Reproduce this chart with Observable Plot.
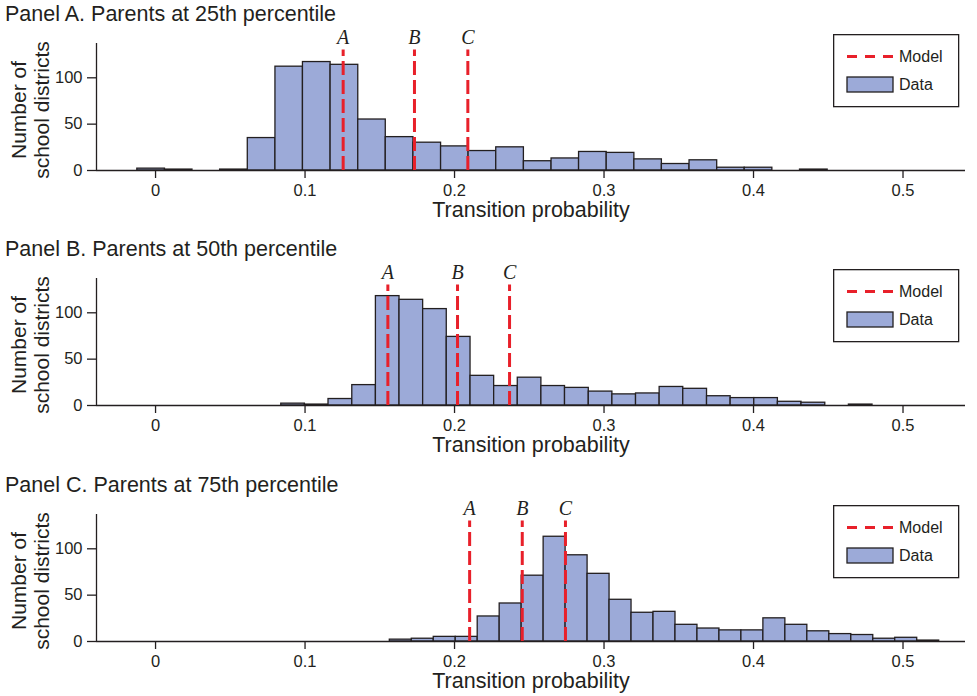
<!DOCTYPE html>
<html><head><meta charset="utf-8">
<script src="https://cdn.jsdelivr.net/npm/d3@7"></script>
<script src="https://cdn.jsdelivr.net/npm/@observablehq/plot@0.6"></script>
<style>
body{margin:0;background:#fff;font-family:"Liberation Sans",Arial,sans-serif;color:#231f20}
#chart{position:relative;width:977px;height:696px;overflow:hidden}
.panel{position:absolute;left:0;width:977px}
.ptitle{position:absolute;left:5px;top:2px;font-size:21.5px;line-height:24px;white-space:nowrap}
.legend{position:absolute;left:833px;top:34px}
.panel svg.plot{position:absolute;left:0;top:0}
</style></head><body><div id="chart"></div>
<script>
const panelTitles = ["Panel A. Parents at 25th percentile", "Panel B. Parents at 50th percentile", "Panel C. Parents at 75th percentile"];
const panelTops = [0, 235, 471];

// Histogram bin edges and counts
const edgesA = [-0.0122,0.0063,0.0247,0.0432,0.0617,0.0802,0.0986,0.1171,0.1356,0.1540,0.1725,0.1910,0.2094,0.2279,0.2464,0.2649,0.2833,0.3018,0.3203,0.3387,0.3572,0.3757,0.3941,0.4126,0.4311,0.4496];
const countsA = [2,1,0,1,35,112,117,114,55,36,30,26,21,25,10,13,20,19,12,7,11,3,3,0,1];

const edgesB = [0.0841,0.0999,0.1157,0.1316,0.1474,0.1632,0.1790,0.1948,0.2107,0.2265,0.2423,0.2581,0.2739,0.2898,0.3056,0.3214,0.3372,0.3530,0.3689,0.3847,0.4005,0.4163,0.4321,0.4480,0.4638,0.4796];
const countsB = [2,1,7,22,118,114,104,74,32,21,30,21,19,15,12,13,20,18,10,8,8,4,3,0,1];

const edgesC = [0.1567,0.1714,0.1861,0.2008,0.2155,0.2302,0.2449,0.2596,0.2743,0.2890,0.3037,0.3184,0.3331,0.3478,0.3625,0.3772,0.3919,0.4066,0.4213,0.4360,0.4507,0.4654,0.4801,0.4948,0.5095,0.5242];
const countsC = [2,3,5,5,27,41,71,113,93,73,45,31,32,18,14,12,12,25,18,11,8,7,3,4,1];

// Model predictions (dashed lines)
const modelLabels = ["A", "B", "C"];
const modelA = [0.1255, 0.1732, 0.2089];
const modelB = [0.1554, 0.2020, 0.2368];
const modelC = [0.2101, 0.2453, 0.2742];

const xTicks = [0, 0.1, 0.2, 0.3, 0.4, 0.5];
const yTicks = [0, 50, 100];
const xDomain = [-0.0395, 0.5418];
const yDomain = [0, 137];
const modelTop = 130;

const INK = "#231f20";
const RED = "#e8202a";
const BAR = "#9caad8";
const FONT = '"Liberation Sans", Arial, sans-serif';

function makePanel(i, edges, counts, models) {
  const bins = counts.map((c, k) => ({x1: edges[k], x2: edges[k + 1], count: c})).filter(d => d.count > 0);
  const lines = models.map((x, k) => ({x, label: modelLabels[k]}));
  const plot = Plot.plot({
    width: 977, height: 225,
    marginTop: 43, marginBottom: 55, marginLeft: 96, marginRight: 12,
    x: {domain: xDomain},
    y: {domain: yDomain},
    style: {fontFamily: FONT, color: INK, background: "transparent", overflow: "visible"},
    marks: [
      Plot.rectY(bins, {x1: "x1", x2: "x2", y1: 0, y2: "count", fill: BAR, stroke: INK, strokeWidth: 1.3, insetLeft: 0, insetRight: 0}),
      Plot.ruleY([0], {stroke: INK, strokeWidth: 1.3}),
      Plot.ruleX([xDomain[0]], {y1: yDomain[0], y2: yDomain[1], stroke: INK, strokeWidth: 1.3}),
      Plot.ruleX(lines, {x: "x", y1: 0, y2: modelTop, stroke: RED, strokeWidth: 3, strokeDasharray: "14,5"}),
      Plot.text(lines, {x: "x", y: modelTop, text: "label", dy: -12, fontFamily: '"Liberation Serif", "Times New Roman", serif', fontStyle: "italic", fontSize: 20, fill: INK}),
      Plot.axisX({ticks: xTicks, tickSize: 8, tickPadding: 6, fontSize: 16.5, strokeWidth: 1.3, tickFormat: d => d === 0 ? "0" : String(d), label: null}),
      Plot.axisY({ticks: yTicks, tickSize: 9, tickPadding: 5, fontSize: 16.5, strokeWidth: 1.3, label: null}),
      Plot.text(["Transition probability"], {text: d => d, frameAnchor: "bottom", lineAnchor: "middle", dy: 40, fontSize: 21.5, fill: INK}),
      Plot.text(["Number of\nschool districts"], {text: d => d, frameAnchor: "left", textAnchor: "middle", lineAnchor: "middle", rotate: -90, dx: -66, dy: 3, fontSize: 21, lineHeight: 1.08, fill: INK})
    ]
  });
  plot.classList.add("plot");
  const div = document.createElement("div");
  div.className = "panel";
  div.style.top = panelTops[i] + "px";
  div.style.height = (i === 2 ? 225 : 236) + "px";
  div.appendChild(plot);
  const t = document.createElement("div");
  t.className = "ptitle";
  t.textContent = panelTitles[i];
  div.appendChild(t);
  const leg = document.createElement("div");
  leg.className = "legend";
  leg.innerHTML = `<svg width="127" height="75" style="font-family:${FONT.replace(/"/g, "'")}">
    <rect x="0.65" y="0.65" width="125" height="72" fill="white" stroke="${INK}" stroke-width="1.3"/>
    <line x1="14" x2="60" y1="22.5" y2="22.5" stroke="${RED}" stroke-width="3" stroke-dasharray="10,8"/>
    <text x="66" y="22.5" dy="0.35em" font-size="16" fill="${INK}">Model</text>
    <rect x="14" y="43" width="46" height="15" fill="${BAR}" stroke="${INK}" stroke-width="1.3"/>
    <text x="66" y="50.5" dy="0.35em" font-size="16" fill="${INK}">Data</text>
  </svg>`;
  div.appendChild(leg);
  document.getElementById("chart").appendChild(div);
}

makePanel(0, edgesA, countsA, modelA);
makePanel(1, edgesB, countsB, modelB);
makePanel(2, edgesC, countsC, modelC);
</script></body></html>
